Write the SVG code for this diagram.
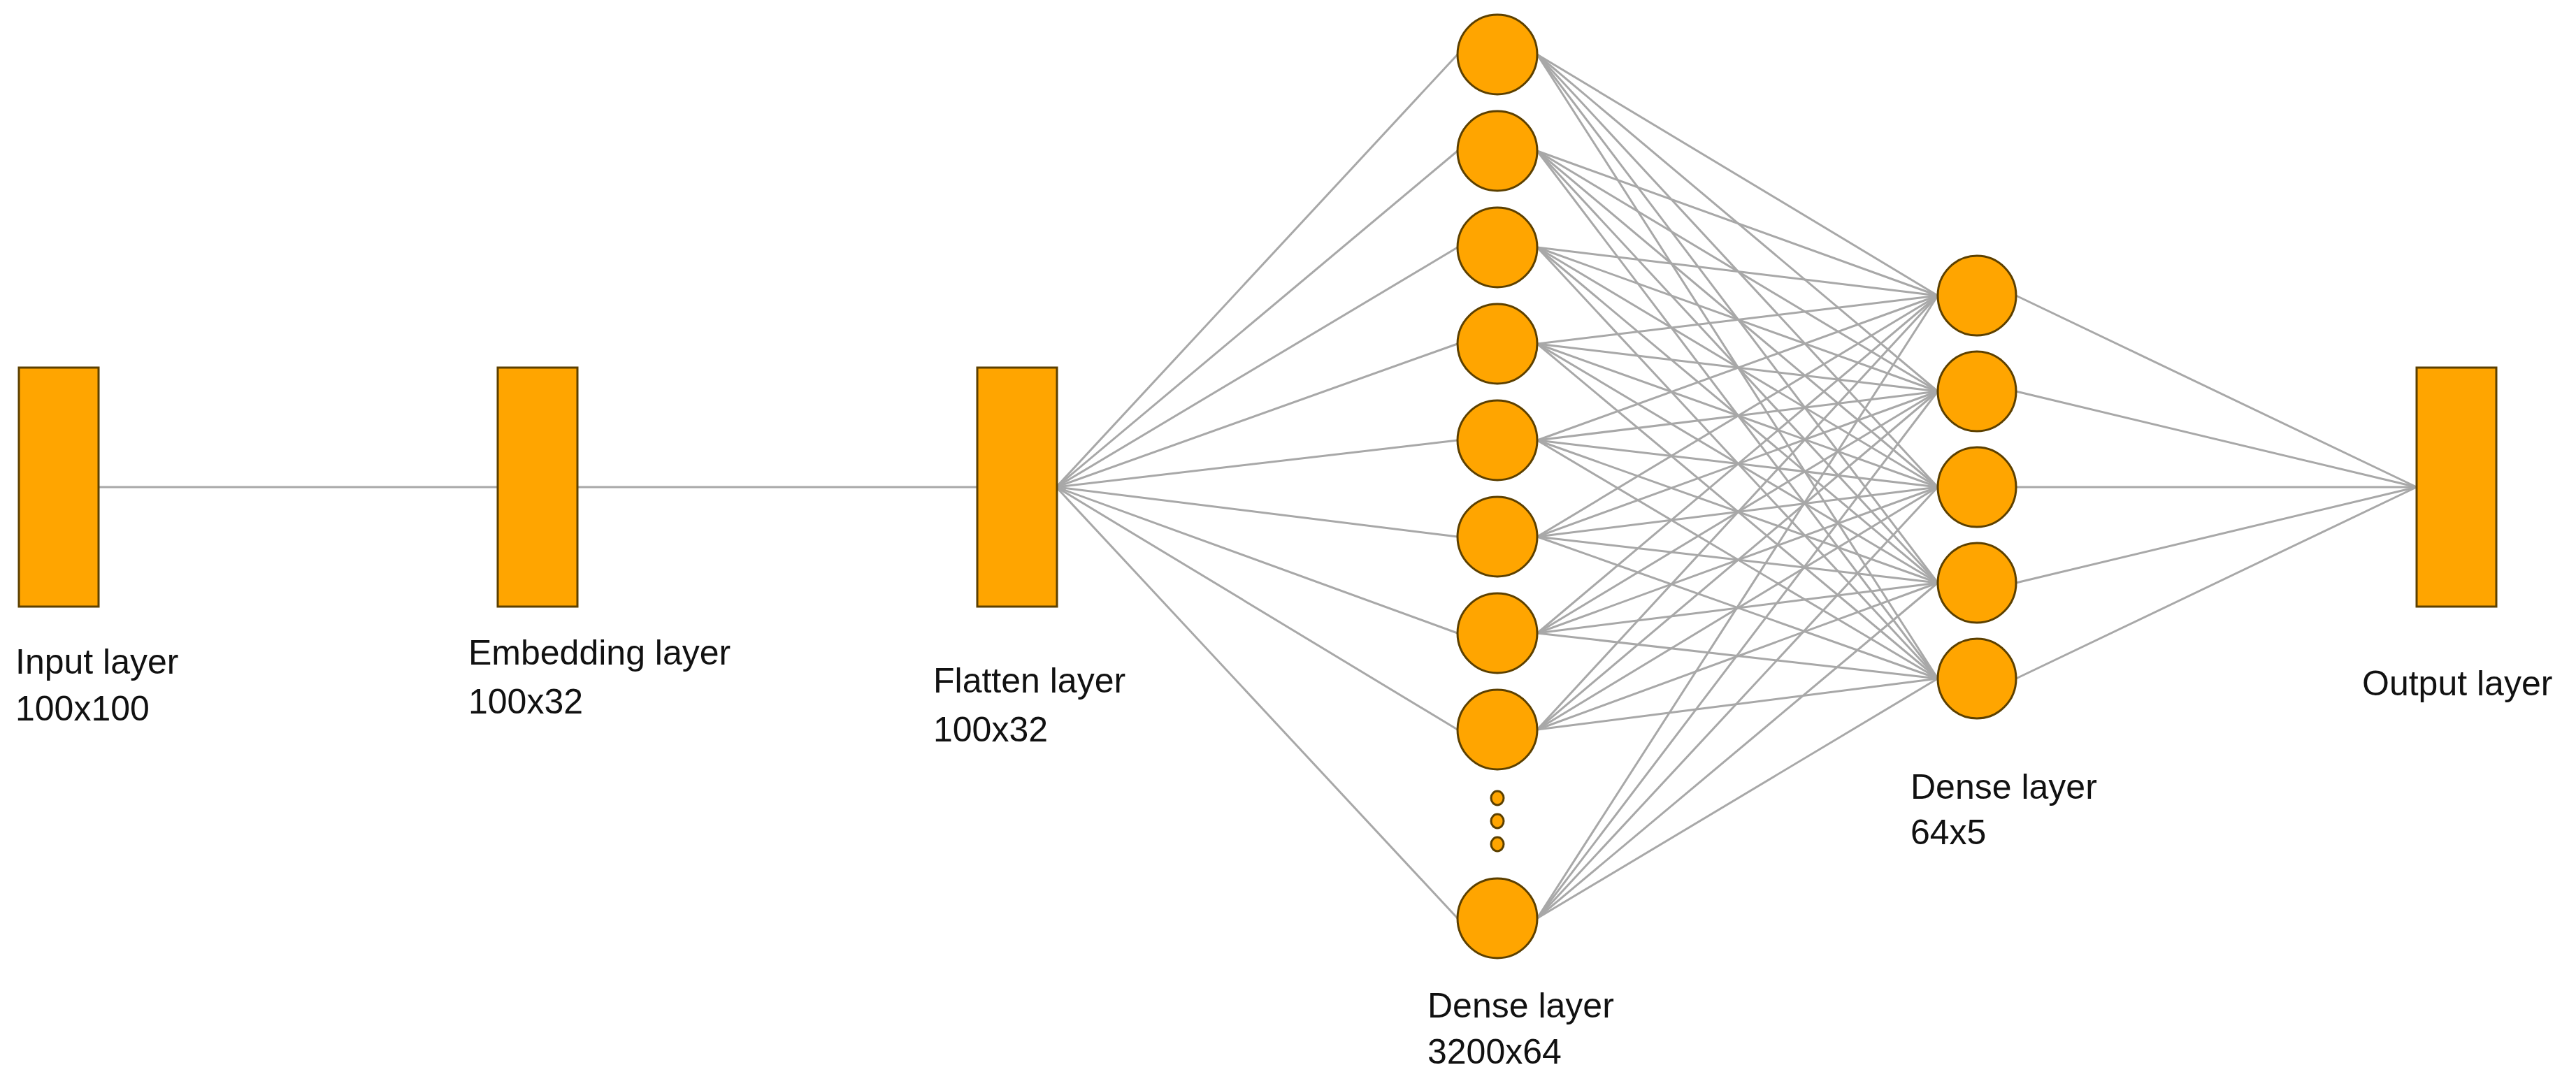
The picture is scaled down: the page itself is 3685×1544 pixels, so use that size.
<svg xmlns="http://www.w3.org/2000/svg" width="3685" height="1544" viewBox="0 0 3685 1544">
<style>
.n{fill:#FFA500;stroke:#5c4000;stroke-width:3}
.c line{stroke:#a8a8a8;stroke-width:3}
text{font-family:"Liberation Sans",Arial,sans-serif;font-size:50px;fill:#111}
</style>
<rect width="3685" height="1544" fill="#fff"/>
<g class="c" id="connectors">
<line x1="141" y1="697" x2="712" y2="697"/>
<line x1="825" y1="697" x2="1398" y2="697"/>
<line x1="1511" y1="697" x2="2085" y2="78"/>
<line x1="1511" y1="697" x2="2085" y2="216"/>
<line x1="1511" y1="697" x2="2085" y2="354"/>
<line x1="1511" y1="697" x2="2085" y2="492"/>
<line x1="1511" y1="697" x2="2085" y2="630"/>
<line x1="1511" y1="697" x2="2085" y2="768"/>
<line x1="1511" y1="697" x2="2085" y2="906"/>
<line x1="1511" y1="697" x2="2085" y2="1044"/>
<line x1="1511" y1="697" x2="2085" y2="1314"/>
<line x1="2884" y1="423" x2="3457" y2="697"/>
<line x1="2884" y1="560" x2="3457" y2="697"/>
<line x1="2884" y1="697" x2="3457" y2="697"/>
<line x1="2884" y1="834" x2="3457" y2="697"/>
<line x1="2884" y1="971" x2="3457" y2="697"/>
<g id="d1d2">
<line x1="2199" y1="78" x2="2772" y2="423"/><line x1="2199" y1="78" x2="2772" y2="560"/><line x1="2199" y1="78" x2="2772" y2="697"/><line x1="2199" y1="78" x2="2772" y2="834"/><line x1="2199" y1="78" x2="2772" y2="971"/>
<line x1="2199" y1="216" x2="2772" y2="423"/><line x1="2199" y1="216" x2="2772" y2="560"/><line x1="2199" y1="216" x2="2772" y2="697"/><line x1="2199" y1="216" x2="2772" y2="834"/><line x1="2199" y1="216" x2="2772" y2="971"/>
<line x1="2199" y1="354" x2="2772" y2="423"/><line x1="2199" y1="354" x2="2772" y2="560"/><line x1="2199" y1="354" x2="2772" y2="697"/><line x1="2199" y1="354" x2="2772" y2="834"/><line x1="2199" y1="354" x2="2772" y2="971"/>
<line x1="2199" y1="492" x2="2772" y2="423"/><line x1="2199" y1="492" x2="2772" y2="560"/><line x1="2199" y1="492" x2="2772" y2="697"/><line x1="2199" y1="492" x2="2772" y2="834"/><line x1="2199" y1="492" x2="2772" y2="971"/>
<line x1="2199" y1="630" x2="2772" y2="423"/><line x1="2199" y1="630" x2="2772" y2="560"/><line x1="2199" y1="630" x2="2772" y2="697"/><line x1="2199" y1="630" x2="2772" y2="834"/><line x1="2199" y1="630" x2="2772" y2="971"/>
<line x1="2199" y1="768" x2="2772" y2="423"/><line x1="2199" y1="768" x2="2772" y2="560"/><line x1="2199" y1="768" x2="2772" y2="697"/><line x1="2199" y1="768" x2="2772" y2="834"/><line x1="2199" y1="768" x2="2772" y2="971"/>
<line x1="2199" y1="906" x2="2772" y2="423"/><line x1="2199" y1="906" x2="2772" y2="560"/><line x1="2199" y1="906" x2="2772" y2="697"/><line x1="2199" y1="906" x2="2772" y2="834"/><line x1="2199" y1="906" x2="2772" y2="971"/>
<line x1="2199" y1="1044" x2="2772" y2="423"/><line x1="2199" y1="1044" x2="2772" y2="560"/><line x1="2199" y1="1044" x2="2772" y2="697"/><line x1="2199" y1="1044" x2="2772" y2="834"/><line x1="2199" y1="1044" x2="2772" y2="971"/>
<line x1="2199" y1="1314" x2="2772" y2="423"/><line x1="2199" y1="1314" x2="2772" y2="560"/><line x1="2199" y1="1314" x2="2772" y2="697"/><line x1="2199" y1="1314" x2="2772" y2="834"/><line x1="2199" y1="1314" x2="2772" y2="971"/>
</g>
</g>
<g id="input"><rect class="n" x="27" y="526" width="114" height="342"/><text x="22" y="964">Input layer</text><text x="22" y="1031">100x100</text></g>
<g id="embedding"><rect class="n" x="712" y="526" width="114" height="342"/><text x="670" y="951">Embedding layer</text><text x="670" y="1021">100x32</text></g>
<g id="flatten"><rect class="n" x="1398" y="526" width="114" height="342"/><text x="1335" y="991">Flatten layer</text><text x="1335" y="1061">100x32</text></g>
<g id="dense1">
<ellipse class="n" cx="2142" cy="78" rx="57" ry="57"/>
<ellipse class="n" cx="2142" cy="216" rx="57" ry="57"/>
<ellipse class="n" cx="2142" cy="354" rx="57" ry="57"/>
<ellipse class="n" cx="2142" cy="492" rx="57" ry="57"/>
<ellipse class="n" cx="2142" cy="630" rx="57" ry="57"/>
<ellipse class="n" cx="2142" cy="768" rx="57" ry="57"/>
<ellipse class="n" cx="2142" cy="906" rx="57" ry="57"/>
<ellipse class="n" cx="2142" cy="1044" rx="57" ry="57"/>
<ellipse class="n" cx="2142" cy="1142" rx="9" ry="10"/>
<ellipse class="n" cx="2142" cy="1175" rx="9" ry="10"/>
<ellipse class="n" cx="2142" cy="1208" rx="9" ry="10"/>
<ellipse class="n" cx="2142" cy="1314" rx="57" ry="57"/>
<text x="2042" y="1456">Dense layer</text><text x="2042" y="1522">3200x64</text>
</g>
<g id="dense2">
<ellipse class="n" cx="2828" cy="423" rx="56" ry="57"/>
<ellipse class="n" cx="2828" cy="560" rx="56" ry="57"/>
<ellipse class="n" cx="2828" cy="697" rx="56" ry="57"/>
<ellipse class="n" cx="2828" cy="834" rx="56" ry="57"/>
<ellipse class="n" cx="2828" cy="971" rx="56" ry="57"/>
<text x="2733" y="1143">Dense layer</text><text x="2733" y="1208">64x5</text>
</g>
<g id="output"><rect class="n" x="3457" y="526" width="114" height="342"/><text x="3379" y="995">Output layer</text></g>
</svg>
